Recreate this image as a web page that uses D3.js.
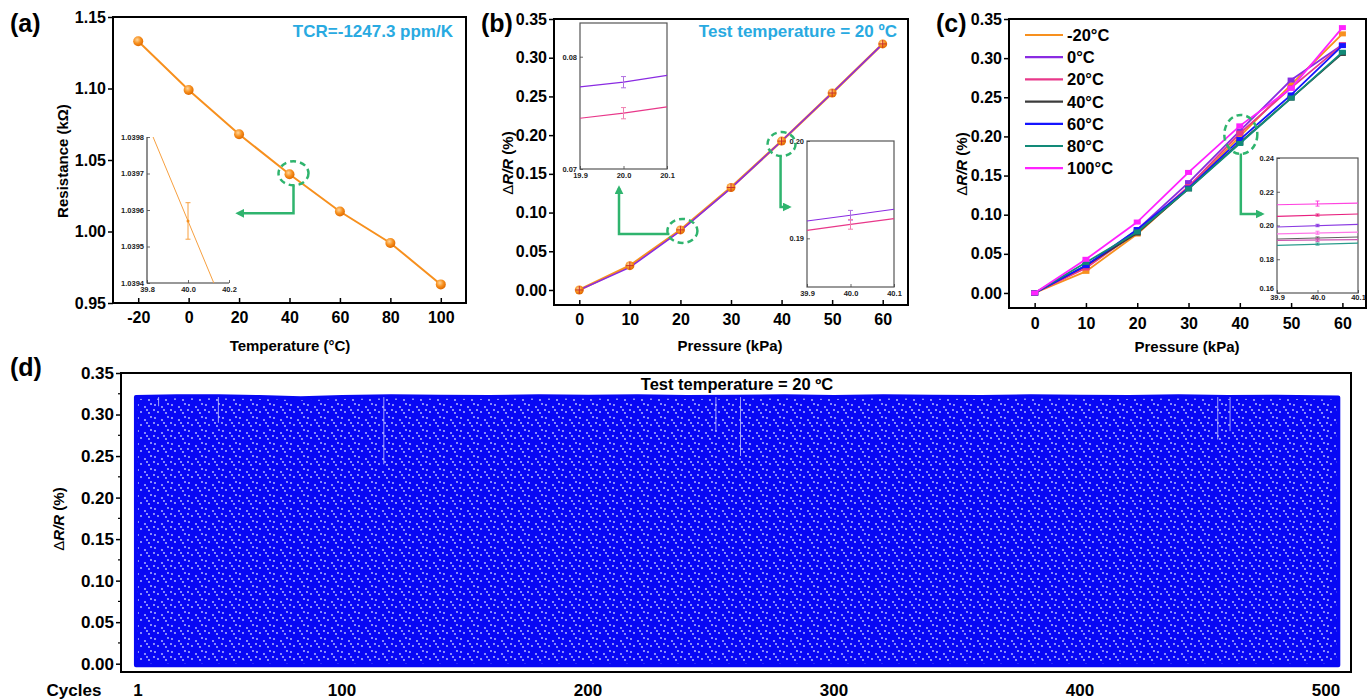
<!DOCTYPE html>
<html><head><meta charset="utf-8">
<script src="https://cdn.jsdelivr.net/npm/d3@7/dist/d3.min.js"></script>
<style>body{margin:0;background:#fff}</style>
</head><body>
<svg id="fig" width="1372" height="700"></svg>
<script>
// ---------------- DATA ----------------
// (a) resistance vs temperature
const tempA = [-20, 0, 20, 40, 60, 80, 100];
const resistA = [1.133, 1.099, 1.068, 1.040, 1.014, 0.992, 0.963];
const tempTicksA = [-20, 0, 20, 40, 60, 80, 100];
const resTicksA = [0.95, 1.00, 1.05, 1.10, 1.15];
// (a) inset
const insetAXEnds = [39.8, 40.2];
const insetAYEnds = [1.03984, 1.03930];
const insetAPointX = [40.0];
const insetAPointY = [1.03957];
const insetAPointErr = [0.00005];
const insetAXTicks = [39.8, 40.0, 40.2];
const insetAYTicks = [1.0394, 1.0395, 1.0396, 1.0397, 1.0398];

// (b) response at 20 °C
const pressB = [0, 10, 20, 30, 40, 50, 60];
const orangeB = [0, 0.0314, 0.0776, 0.1324, 0.1923, 0.2544, 0.3178];
const purpleB = [0, 0.0292, 0.0762, 0.1315, 0.1924, 0.2544, 0.3178];
const pressTicks = [0, 10, 20, 30, 40, 50, 60];
const drTicks = [0, 0.05, 0.10, 0.15, 0.20, 0.25, 0.30, 0.35];
// (b) inset 1 (around 20 kPa)
const insB1X = [19.9, 20.0, 20.1];
const insB1Purple = [0.07732, 0.07773, 0.07833];
const insB1Pink = [0.07452, 0.07497, 0.07554];
const insB1Err = [0.0005, 0.0005];
const insB1YTicks = [0.07, 0.08];
// (b) inset 2 (around 40 kPa)
const insB2X = [39.9, 40.0, 40.1];
const insB2Purple = [0.19178, 0.19237, 0.19299];
const insB2Pink = [0.19082, 0.19144, 0.19203];
const insB2Err = [0.0005, 0.0005];
const insB2YTicks = [0.19, 0.20];

// (c) response at different temperatures
const seriesC = ["-20°C", "0°C", "20°C", "40°C", "60°C", "80°C", "100°C"];
const valuesC = [
  [0, 0.0276, 0.0753, 0.1340, 0.2000, 0.2660, 0.3310],
  [0, 0.0340, 0.0808, 0.1410, 0.2070, 0.2720, 0.3170],
  [0, 0.0320, 0.0780, 0.1360, 0.2040, 0.2620, 0.3170],
  [0, 0.0350, 0.0766, 0.1330, 0.1920, 0.2490, 0.3060],
  [0, 0.0350, 0.0810, 0.1340, 0.1960, 0.2530, 0.3160],
  [0, 0.0390, 0.0780, 0.1330, 0.1910, 0.2490, 0.3075],
  [0, 0.0430, 0.0906, 0.1540, 0.2135, 0.2615, 0.3390]
];
// (c) inset (39.9 – 40.1 kPa)
const insCX = [39.9, 40.1];
const insCLeft = [0.2123, 0.2054, 0.1991, 0.1950, 0.1920, 0.1912, 0.1882];
const insCRight = [0.2133, 0.2068, 0.2007, 0.1961, 0.1932, 0.1916, 0.1896];
const insCMid = [0.2130, 0.2062, 0.2000, 0.1957, 0.1926, 0.1914, 0.1890];
const insCErr = [0.0015, 0.0006, 0.0007, 0.0009, 0.0006, 0.0008, 0.0006];
const insCYTicks = [0.16, 0.18, 0.20, 0.22, 0.24];
const insCXTicks = [39.9, 40.0, 40.1];

// (d) cycling test envelope
const cycTickLabels = [1, 100, 200, 300, 400, 500];
const cycEnvX = [0, 20, 40, 60, 80, 100, 120, 140, 160, 180, 200, 220, 240, 260, 280, 300, 320, 340, 360, 380, 400, 420, 440, 460, 480, 505];
const cycEnvTop = [0.321, 0.322, 0.322, 0.321, 0.3195, 0.321, 0.322, 0.3215, 0.321, 0.322, 0.3215, 0.322, 0.321, 0.3215, 0.322, 0.321, 0.322, 0.3215, 0.321, 0.322, 0.3215, 0.321, 0.322, 0.321, 0.3215, 0.3205];
const cycEnvBottom = [-0.002, -0.002, -0.002, -0.002, -0.002, -0.002, -0.002, -0.002, -0.002, -0.002, -0.002, -0.002, -0.002, -0.002, -0.002, -0.002, -0.002, -0.002, -0.002, -0.002, -0.002, -0.002, -0.002, -0.002, -0.002, -0.002];
const gapCycle = [11, 40, 117, 252, 262, 456, 461];
const gapLow = [0.31, 0.29, 0.24, 0.28, 0.25, 0.27, 0.28];
const gapHigh = [0.321, 0.321, 0.321, 0.321, 0.321, 0.321, 0.321];

// ---------------- STYLE ----------------
const FONT = '"Liberation Sans", Arial, Helvetica, sans-serif';
const GREEN = "#2fb46e", LBLUE = "#29aae1", ORANGE = "#f7901e", PURPLE = "#8a2be2", PINK = "#e8388a";
const colorsC = ["#f7901e", "#8a2be2", "#e8388a", "#3c3c3c", "#1414ff", "#128a78", "#ff22ff"];
const insCColors = ["#ff44e0", "#e8207f", "#8a3be2", "#ff77e8", "#606060", "#cc55b0", "#2a9c8c"];

const svg = d3.select("#fig").attr("font-family", FONT);
const defs = svg.append("defs");
defs.append("marker").attr("id", "arr").attr("viewBox", "0 0 10 10").attr("refX", 7).attr("refY", 5)
  .attr("markerWidth", 3.6).attr("markerHeight", 3.6).attr("orient", "auto")
  .append("path").attr("d", "M0,0L10,5L0,10z").attr("fill", GREEN);
const rg = defs.append("radialGradient").attr("id", "ball").attr("cx", "40%").attr("cy", "35%").attr("r", "65%");
rg.append("stop").attr("offset", "0%").attr("stop-color", "#ffd59a");
rg.append("stop").attr("offset", "55%").attr("stop-color", "#f7901e");
rg.append("stop").attr("offset", "100%").attr("stop-color", "#e06a00");
const pat = defs.append("pattern").attr("id", "dots").attr("width", 17).attr("height", 13).attr("patternUnits", "userSpaceOnUse");
pat.append("rect").attr("width", 17).attr("height", 13).attr("fill", "#0808f4");
[[2, 2], [9, 4], [5, 9], [13, 10], [15, 1], [1, 7], [11, 7]].forEach(p =>
  pat.append("circle").attr("cx", p[0]).attr("cy", p[1]).attr("r", 0.9).attr("fill", "#c4c8ff"));

const numFmt = d => String(d);

function styleAxis(sel, size) {
  sel.attr("font-family", FONT).attr("font-size", size).attr("font-weight", "bold");
  sel.selectAll("text").attr("fill", "#000");
  sel.selectAll("line").attr("stroke", "#000").attr("stroke-width", 1.5);
  sel.select(".domain").remove();
}

function panel(o) {
  const x = d3.scaleLinear(o.xd, [o.L, o.R]);
  const y = d3.scaleLinear(o.yd, [o.B, o.T]);
  const g = svg.append("g");
  if (o.xt) {
    g.append("g").attr("transform", `translate(0,${o.B})`)
      .call(d3.axisBottom(x).tickValues(o.xt).tickFormat(o.xf || numFmt).tickSizeInner(-5).tickSizeOuter(0).tickPadding(o.xpad || 9))
      .call(s => styleAxis(s, o.fs || 16));
  }
  g.append("g").attr("transform", `translate(${o.L},0)`)
    .call(d3.axisLeft(y).tickValues(o.yt).tickFormat(o.yf || d3.format(".2f")).tickSizeInner(5).tickSizeOuter(0).tickPadding(2))
    .call(s => styleAxis(s, o.fs || 16));
  if (o.ym) {
    g.append("g").selectAll("line").data(o.ym).join("line")
      .attr("x1", o.L - 3).attr("x2", o.L).attr("y1", d => y(d)).attr("y2", d => y(d))
      .attr("stroke", "#000").attr("stroke-width", 1.2);
  }
  g.append("rect").attr("x", o.L).attr("y", o.T).attr("width", o.R - o.L).attr("height", o.B - o.T)
    .attr("fill", "none").attr("stroke", "#000").attr("stroke-width", 2);
  return { x, y, g };
}

function inset(o) {
  const x = d3.scaleLinear(o.xd, [o.L, o.R]);
  const y = d3.scaleLinear(o.yd, [o.B, o.T]);
  const g = svg.append("g");
  if (o.full) {
    g.append("rect").attr("x", o.L).attr("y", o.T).attr("width", o.R - o.L).attr("height", o.B - o.T)
      .attr("fill", "#fff").attr("stroke", "#555").attr("stroke-width", 1.2);
  } else {
    g.append("path").attr("d", `M${o.L},${o.T}V${o.B}H${o.R}`).attr("fill", "none").attr("stroke", "#333").attr("stroke-width", 1.1);
  }
  const ax = g.append("g").attr("transform", `translate(0,${o.B})`)
    .call(d3.axisBottom(x).tickValues(o.xt).tickFormat(d3.format(".1f")).tickSizeInner(-3).tickSizeOuter(0).tickPadding(o.xpad || 4));
  const ay = g.append("g").attr("transform", `translate(${o.L},0)`)
    .call(d3.axisLeft(y).tickValues(o.yt).tickFormat(o.yf).tickSizeInner(-3).tickSizeOuter(0).tickPadding(3));
  [ax, ay].forEach(s => {
    s.attr("font-family", FONT).attr("font-size", 7.5).attr("font-weight", "bold");
    s.selectAll("text").attr("fill", "#222");
    s.selectAll("line").attr("stroke", "#444").attr("stroke-width", 0.8);
    s.select(".domain").remove();
  });
  if (o.lowLabelDy) ay.selectAll(".tick").filter((d, i) => i === 0).select("text").attr("dy", o.lowLabelDy);
  return { x, y, g };
}

function errBar(g, x, y, xv, yv, e, color, cap) {
  g.append("path").attr("d",
    `M${x(xv)},${y(yv - e)}V${y(yv + e)}M${x(xv) - cap},${y(yv - e)}H${x(xv) + cap}M${x(xv) - cap},${y(yv + e)}H${x(xv) + cap}`)
    .attr("stroke", color).attr("stroke-width", 1).attr("fill", "none");
}

function label(txt, x, y) {
  svg.append("text").attr("x", x).attr("y", y).attr("font-size", 25).attr("font-weight", "bold").text(txt);
}
function xTitle(txt, x, y) {
  svg.append("text").attr("x", x).attr("y", y).attr("text-anchor", "middle").attr("font-size", 15).attr("font-weight", "bold").text(txt);
}
function yTitleDR(cx, cy) {
  const t = svg.append("text").attr("transform", `translate(${cx},${cy}) rotate(-90)`).attr("dy", "0.35em")
    .attr("text-anchor", "middle").attr("font-size", 15).attr("font-weight", "bold");
  t.append("tspan").attr("font-weight", "normal").text("Δ");
  t.append("tspan").attr("font-style", "italic").text("R/R");
  t.append("tspan").text(" (%)");
}
function greenEllipse(cx, cy, rx, ry) {
  svg.append("ellipse").attr("cx", cx).attr("cy", cy).attr("rx", rx).attr("ry", ry)
    .attr("fill", "none").attr("stroke", GREEN).attr("stroke-width", 2.5).attr("stroke-dasharray", "6,4");
}
function greenArrow(pts) {
  svg.append("path").attr("d", d3.line()(pts)).attr("fill", "none").attr("stroke", GREEN)
    .attr("stroke-width", 2.5).attr("marker-end", "url(#arr)");
}

// ---------------- PANEL (a) ----------------
{
  const { x, y, g } = panel({ L: 113, T: 17, R: 466, B: 303, xd: [-30, 110], yd: [0.95, 1.15], xt: tempTicksA, yt: resTicksA });
  const pts = tempA.map((t, i) => [x(t), y(resistA[i])]);
  g.append("path").attr("d", d3.line()(pts)).attr("fill", "none").attr("stroke", ORANGE).attr("stroke-width", 2);
  g.selectAll("circle.m").data(pts).join("circle").attr("cx", d => d[0]).attr("cy", d => d[1]).attr("r", 5).attr("fill", "url(#ball)");
  svg.append("text").attr("x", 453).attr("y", 37).attr("text-anchor", "end").attr("font-size", 17)
    .attr("font-weight", "bold").attr("fill", LBLUE).text("TCR=-1247.3 ppm/K");
  // inset
  const ins = inset({ L: 147, T: 137, R: 229, B: 283, xd: [39.8, 40.2], yd: [1.0394, 1.0398], xt: insetAXTicks, yt: insetAYTicks, yf: d3.format(".4f") });
  defs.append("clipPath").attr("id", "clipA").append("rect").attr("x", 147).attr("y", 137).attr("width", 82).attr("height", 146);
  ins.g.append("path").attr("clip-path", "url(#clipA)")
    .attr("d", d3.line()(insetAXEnds.map((v, i) => [ins.x(v), ins.y(insetAYEnds[i])])))
    .attr("stroke", "#f7a040").attr("stroke-width", 1).attr("fill", "none");
  errBar(ins.g, ins.x, ins.y, insetAPointX[0], insetAPointY[0], insetAPointErr[0], "#f7a040", 2.5);
  ins.g.append("circle").attr("cx", ins.x(insetAPointX[0])).attr("cy", ins.y(insetAPointY[0])).attr("r", 1.5).attr("fill", ORANGE);
  // annotation
  const ax0 = x(40) + 4, ay0 = y(1.040);
  greenEllipse(ax0, ay0 - 1, 15, 12);
  greenArrow([[ax0, ay0 + 11], [ax0, ay0 + 39], [238, ay0 + 39]]);
  label("(a)", 10, 32);
  xTitle("Temperature (°C)", 290, 351);
  svg.append("text").attr("transform", `translate(63,161) rotate(-90)`).attr("dy", "0.35em")
    .attr("text-anchor", "middle").attr("font-size", 15).attr("font-weight", "bold").text("Resistance (kΩ)");
}

// ---------------- PANEL (b) ----------------
{
  const { x, y, g } = panel({ L: 554, T: 19, R: 908, B: 305, xd: [-5, 65], yd: [-0.0194, 0.35], xt: pressTicks, yt: drTicks });
  const po = pressB.map((p, i) => [x(p), y(orangeB[i])]);
  const pp = pressB.map((p, i) => [x(p), y(purpleB[i])]);
  g.append("path").attr("d", d3.line()(po)).attr("fill", "none").attr("stroke", ORANGE).attr("stroke-width", 2.5);
  g.append("path").attr("d", d3.line()(pp)).attr("fill", "none").attr("stroke", PURPLE).attr("stroke-width", 1.6);
  po.forEach(d => {
    g.append("circle").attr("cx", d[0]).attr("cy", d[1]).attr("r", 4.5).attr("fill", "url(#ball)");
    g.append("path").attr("d", `M${d[0] - 4},${d[1]}H${d[0] + 4}M${d[0]},${d[1] - 4}V${d[1] + 4}`).attr("stroke", "#c8302a").attr("stroke-width", 1);
  });
  svg.append("text").attr("x", 897).attr("y", 37).attr("text-anchor", "end").attr("font-size", 17)
    .attr("font-weight", "bold").attr("fill", LBLUE).text("Test temperature = 20 ºC");
  // inset 1
  const i1 = inset({ L: 580, T: 23, R: 667, B: 169, xd: [19.9, 20.1], yd: [0.07, 0.083], xt: insB1X, yt: insB1YTicks, yf: d3.format(".2f"), full: true });
  i1.g.append("path").attr("d", d3.line()(insB1X.map((v, i) => [i1.x(v), i1.y(insB1Purple[i])]))).attr("stroke", PURPLE).attr("stroke-width", 1.2).attr("fill", "none");
  i1.g.append("path").attr("d", d3.line()(insB1X.map((v, i) => [i1.x(v), i1.y(insB1Pink[i])]))).attr("stroke", PINK).attr("stroke-width", 1.2).attr("fill", "none");
  errBar(i1.g, i1.x, i1.y, insB1X[1], insB1Purple[1], insB1Err[0], "#b070e0", 2.5);
  errBar(i1.g, i1.x, i1.y, insB1X[1], insB1Pink[1], insB1Err[1], "#f080b0", 2.5);
  // inset 2
  const i2 = inset({ L: 807, T: 141, R: 894, B: 287, xd: [39.9, 40.1], yd: [0.185, 0.20], xt: insB2X, yt: insB2YTicks, yf: d3.format(".2f"), full: true });
  i2.g.append("path").attr("d", d3.line()(insB2X.map((v, i) => [i2.x(v), i2.y(insB2Purple[i])]))).attr("stroke", PURPLE).attr("stroke-width", 1.2).attr("fill", "none");
  i2.g.append("path").attr("d", d3.line()(insB2X.map((v, i) => [i2.x(v), i2.y(insB2Pink[i])]))).attr("stroke", PINK).attr("stroke-width", 1.2).attr("fill", "none");
  errBar(i2.g, i2.x, i2.y, insB2X[1], insB2Purple[1], insB2Err[0], "#b070e0", 2.5);
  errBar(i2.g, i2.x, i2.y, insB2X[1], insB2Pink[1], insB2Err[1], "#f080b0", 2.5);
  // annotations
  const e1x = x(20) + 2, e1y = y(orangeB[2]) + 1;
  greenEllipse(e1x, e1y, 15, 12);
  greenArrow([[e1x - 13, e1y + 3], [619, e1y + 3], [619, 188]]);
  const e2x = x(40), e2y = y(orangeB[4]) + 3;
  greenEllipse(e2x, e2y, 14, 12);
  greenArrow([[e2x - 1, e2y + 12], [e2x - 1, 207], [789, 207]]);
  label("(b)", 481, 32);
  xTitle("Pressure (kPa)", 730, 351);
  yTitleDR(508, 163);
}

// ---------------- PANEL (c) ----------------
{
  const { x, y, g } = panel({ L: 1009, T: 19, R: 1366, B: 308, xd: [-5, 64.6], yd: [-0.0192, 0.35], xt: pressTicks, yt: drTicks, xpad: 10 });
  valuesC.forEach((vals, si) => {
    const pts = pressTicks.map((p, i) => [x(p), y(vals[i])]);
    g.append("path").attr("d", d3.line()(pts)).attr("fill", "none").attr("stroke", colorsC[si]).attr("stroke-width", 1.8);
    pts.forEach(d => {
      g.append("rect").attr("x", d[0] - 3.5).attr("y", d[1] - 2.5).attr("width", 7).attr("height", 5).attr("fill", colorsC[si]);
    });
  });
  // legend
  seriesC.forEach((s, i) => {
    const ly = 35 + i * 22.2;
    svg.append("line").attr("x1", 1025).attr("x2", 1063).attr("y1", ly).attr("y2", ly).attr("stroke", colorsC[i]).attr("stroke-width", 2.2);
    svg.append("text").attr("x", 1067).attr("y", ly + 6).attr("font-size", 16.5).attr("font-weight", "bold").text(s);
  });
  // inset
  const ic = inset({ L: 1277, T: 158, R: 1358, B: 293, xd: [39.9, 40.1], yd: [0.16, 0.24], xt: insCXTicks, yt: insCYTicks, yf: d3.format(".2f"), full: true, xpad: 2, lowLabelDy: "-0.3em" });
  insCLeft.forEach((v, i) => {
    ic.g.append("line").attr("x1", ic.x(insCX[0])).attr("x2", ic.x(insCX[1])).attr("y1", ic.y(v)).attr("y2", ic.y(insCRight[i]))
      .attr("stroke", insCColors[i]).attr("stroke-width", 1.2);
    errBar(ic.g, ic.x, ic.y, 40.0, insCMid[i], insCErr[i], insCColors[i], 2);
  });
  // annotation
  const cx0 = x(40) + 1, cy0 = y(0.20) - 2;
  greenEllipse(cx0, cy0, 16.5, 19.5);
  greenArrow([[cx0, cy0 + 19], [cx0, 214], [1262, 214]]);
  label("(c)", 936, 32);
  xTitle("Pressure (kPa)", 1187, 352);
  yTitleDR(961.5, 164);
}

// ---------------- PANEL (d) ----------------
{
  const L = 121, T = 373, R = 1351, B = 672;
  const dTicks = [0, 0.05, 0.10, 0.15, 0.20, 0.25, 0.30, 0.35];
  const dMinor = [0.025, 0.075, 0.125, 0.175, 0.225, 0.275, 0.325];
  const x = d3.scaleLinear().domain([1, 100, 500]).range([138, 342, 1326]);
  const { y, g } = panel({ L, T, R, B, xd: [0, 505], yd: [-0.01, 0.35], yt: dTicks, ym: dMinor, fs: 17 });
  const env = cycEnvX.map((c, i) => ({ c, t: cycEnvTop[i], b: cycEnvBottom[i] }));
  const area = d3.area().x(d => x(d.c)).y0(d => y(d.b)).y1(d => y(d.t));
  g.insert("path", "rect").attr("d", area(env)).attr("fill", "url(#dots)").attr("stroke", "#0808f4")
    .attr("stroke-width", 4).attr("stroke-linejoin", "round");
  gapCycle.forEach((c, i) => {
    g.append("line").attr("x1", x(c)).attr("x2", x(c)).attr("y1", y(gapHigh[i])).attr("y2", y(gapLow[i]))
      .attr("stroke", "#c8c8ff").attr("stroke-width", 1).attr("opacity", 0.8);
  });
  cycTickLabels.forEach(c => {
    svg.append("text").attr("x", x(c)).attr("y", 696).attr("text-anchor", "middle").attr("font-size", 17)
      .attr("font-weight", "bold").text(c);
  });
  svg.append("text").attr("x", 74).attr("y", 696).attr("text-anchor", "middle").attr("font-size", 17)
    .attr("font-weight", "bold").text("Cycles");
  svg.append("text").attr("x", 737).attr("y", 390).attr("text-anchor", "middle").attr("font-size", 16.5)
    .attr("font-weight", "bold").text("Test temperature = 20 ºC");
  label("(d)", 10, 376);
  yTitleDR(59, 519);
}
</script>
</body></html>
